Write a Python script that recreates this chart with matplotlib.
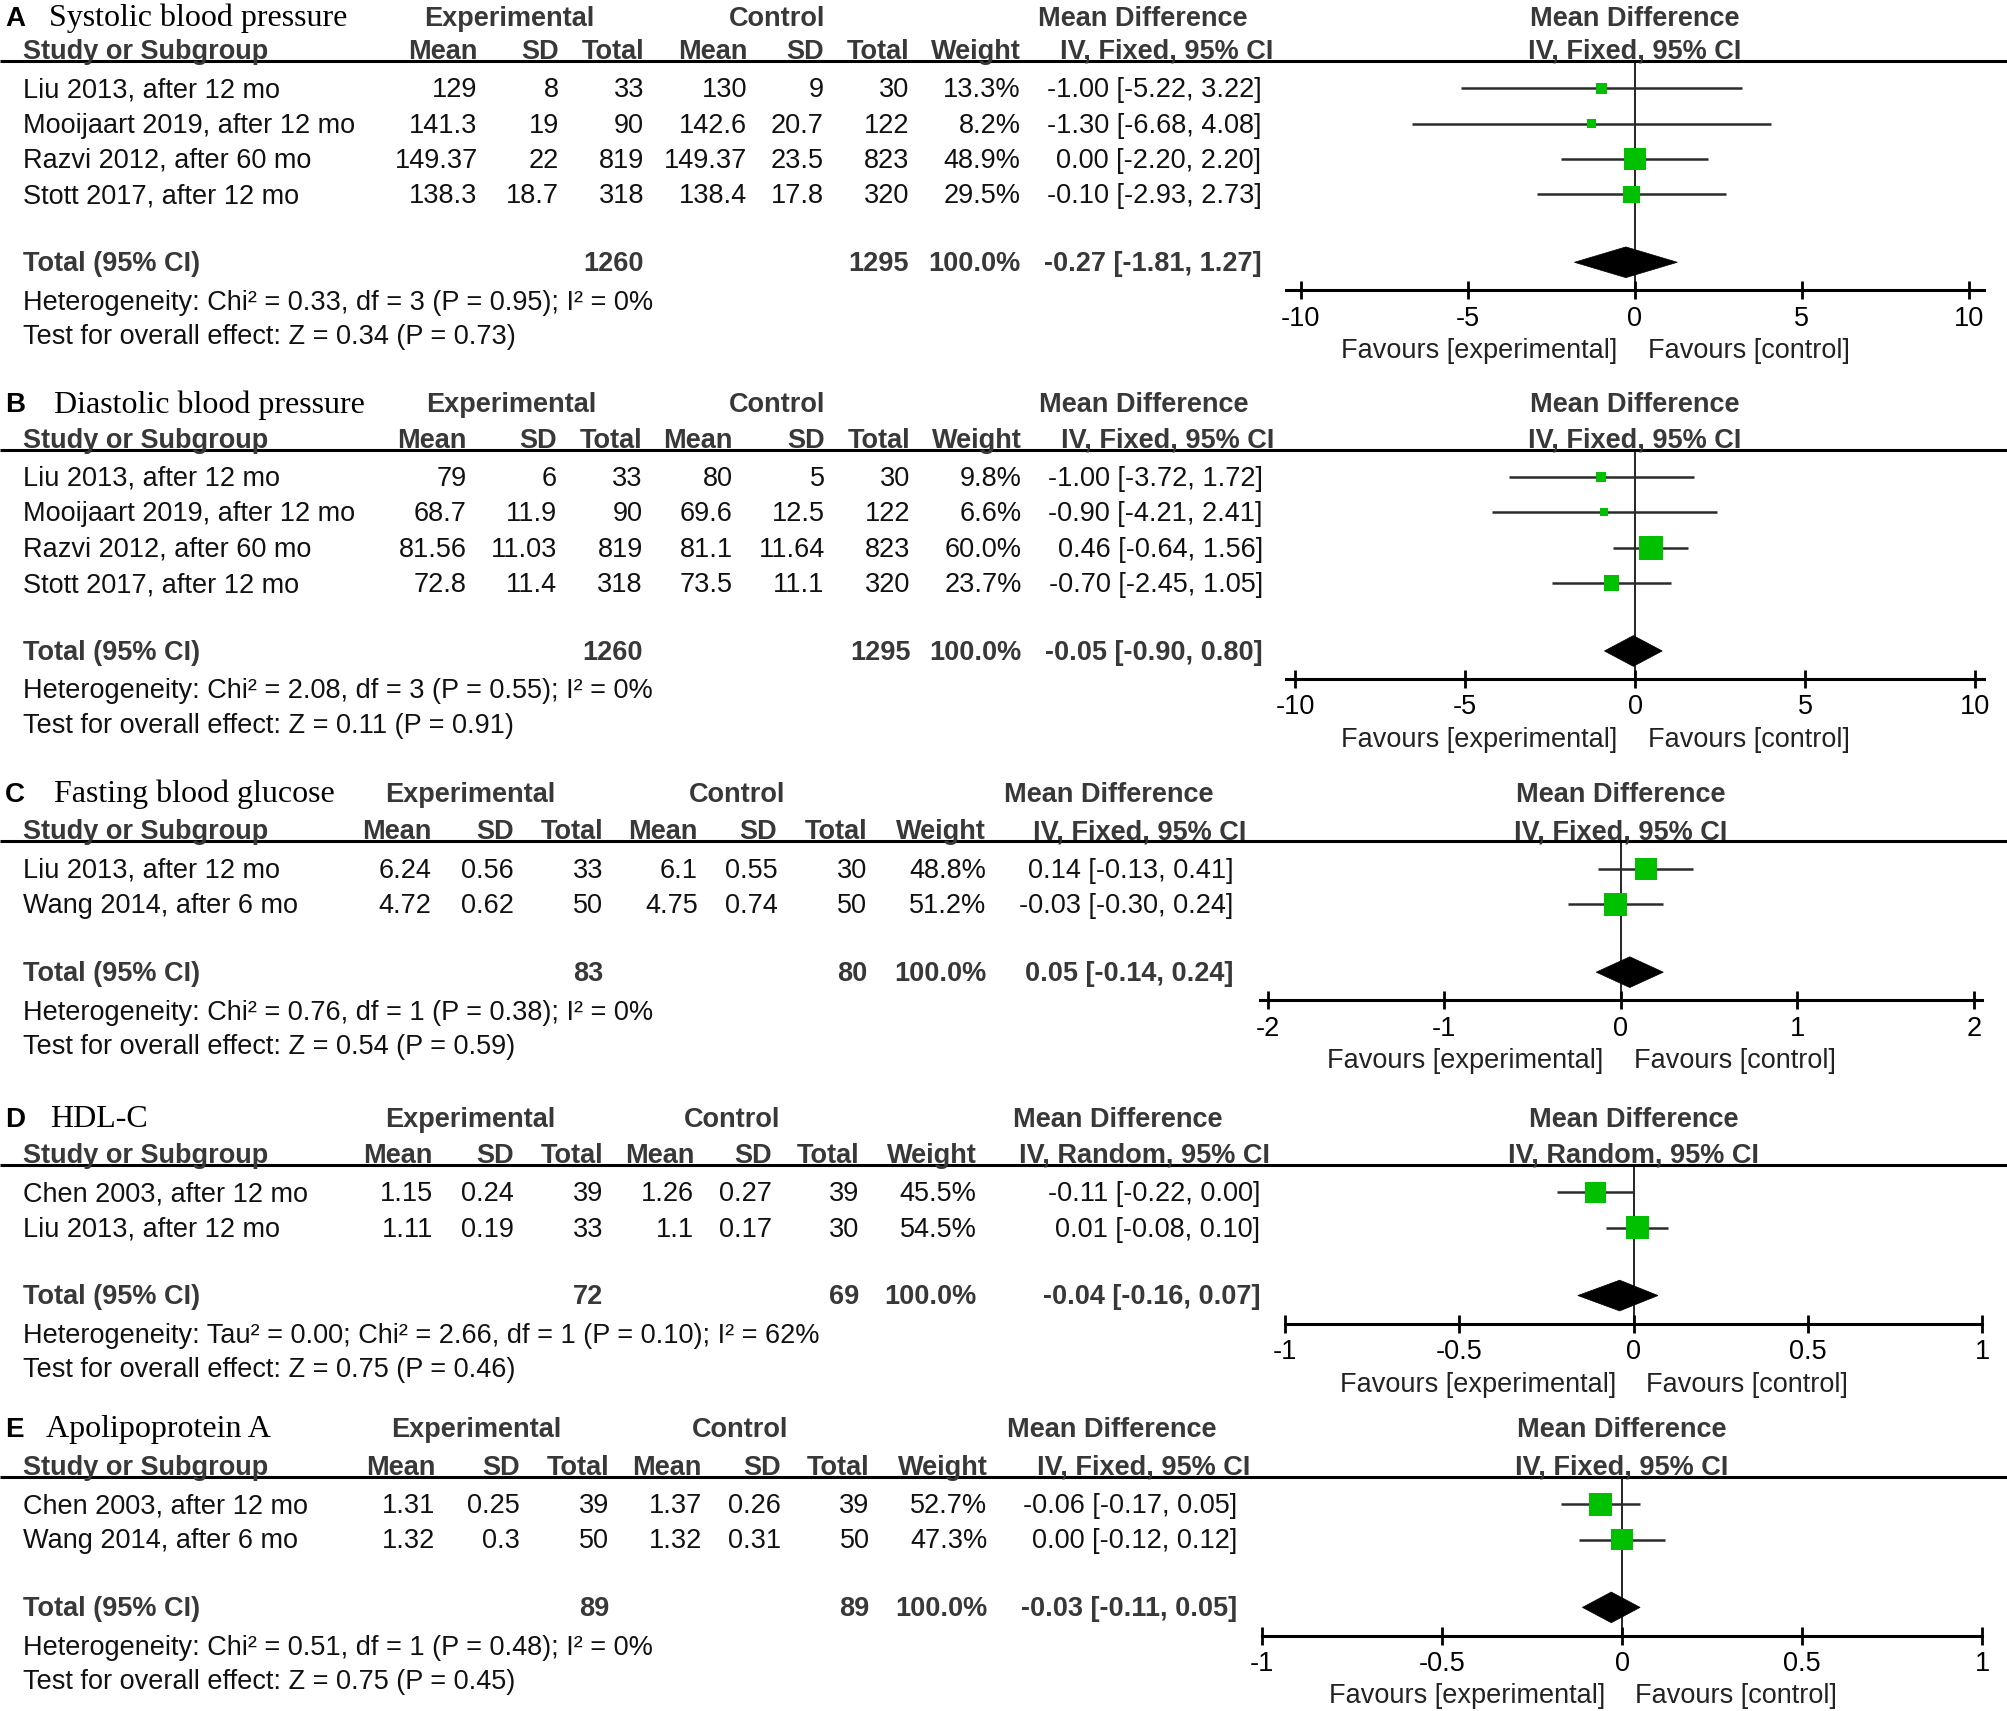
import numpy as np
import matplotlib.pyplot as plt
from matplotlib.patches import Polygon

plt.rcParams['font.family'] = ['Liberation Sans', 'DejaVu Sans']

# ---------------- data ----------------
# A  systolic blood pressure
sbp_study = ["Liu 2013, after 12 mo", "Mooijaart 2019, after 12 mo",
             "Razvi 2012, after 60 mo", "Stott 2017, after 12 mo"]
sbp_exp_mean = ["129", "141.3", "149.37", "138.3"]
sbp_exp_sd = ["8", "19", "22", "18.7"]
sbp_exp_n = [33, 90, 819, 318]
sbp_ctl_mean = ["130", "142.6", "149.37", "138.4"]
sbp_ctl_sd = ["9", "20.7", "23.5", "17.8"]
sbp_ctl_n = [30, 122, 823, 320]
sbp_weight = [13.3, 8.2, 48.9, 29.5]
sbp_md = [-1.00, -1.30, 0.00, -0.10]
sbp_lo = [-5.22, -6.68, -2.20, -2.93]
sbp_hi = [3.22, 4.08, 2.20, 2.73]
sbp_total = [-0.27, -1.81, 1.27]
sbp_het = "Heterogeneity: Chi² = 0.33, df = 3 (P = 0.95); I² = 0%"
sbp_test = "Test for overall effect: Z = 0.34 (P = 0.73)"

# B  diastolic blood pressure
dbp_study = sbp_study
dbp_exp_mean = ["79", "68.7", "81.56", "72.8"]
dbp_exp_sd = ["6", "11.9", "11.03", "11.4"]
dbp_exp_n = [33, 90, 819, 318]
dbp_ctl_mean = ["80", "69.6", "81.1", "73.5"]
dbp_ctl_sd = ["5", "12.5", "11.64", "11.1"]
dbp_ctl_n = [30, 122, 823, 320]
dbp_weight = [9.8, 6.6, 60.0, 23.7]
dbp_md = [-1.00, -0.90, 0.46, -0.70]
dbp_lo = [-3.72, -4.21, -0.64, -2.45]
dbp_hi = [1.72, 2.41, 1.56, 1.05]
dbp_total = [-0.05, -0.90, 0.80]
dbp_het = "Heterogeneity: Chi² = 2.08, df = 3 (P = 0.55); I² = 0%"
dbp_test = "Test for overall effect: Z = 0.11 (P = 0.91)"

# C  fasting blood glucose
fbg_study = ["Liu 2013, after 12 mo", "Wang 2014, after 6 mo"]
fbg_exp_mean = ["6.24", "4.72"]
fbg_exp_sd = ["0.56", "0.62"]
fbg_exp_n = [33, 50]
fbg_ctl_mean = ["6.1", "4.75"]
fbg_ctl_sd = ["0.55", "0.74"]
fbg_ctl_n = [30, 50]
fbg_weight = [48.8, 51.2]
fbg_md = [0.14, -0.03]
fbg_lo = [-0.13, -0.30]
fbg_hi = [0.41, 0.24]
fbg_total = [0.05, -0.14, 0.24]
fbg_het = "Heterogeneity: Chi² = 0.76, df = 1 (P = 0.38); I² = 0%"
fbg_test = "Test for overall effect: Z = 0.54 (P = 0.59)"

# D  HDL-C
hdl_study = ["Chen 2003, after 12 mo", "Liu 2013, after 12 mo"]
hdl_exp_mean = ["1.15", "1.11"]
hdl_exp_sd = ["0.24", "0.19"]
hdl_exp_n = [39, 33]
hdl_ctl_mean = ["1.26", "1.1"]
hdl_ctl_sd = ["0.27", "0.17"]
hdl_ctl_n = [39, 30]
hdl_weight = [45.5, 54.5]
hdl_md = [-0.11, 0.01]
hdl_lo = [-0.22, -0.08]
hdl_hi = [0.00, 0.10]
hdl_total = [-0.04, -0.16, 0.07]
hdl_het = "Heterogeneity: Tau² = 0.00; Chi² = 2.66, df = 1 (P = 0.10); I² = 62%"
hdl_test = "Test for overall effect: Z = 0.75 (P = 0.46)"

# E  apolipoprotein A
apo_study = ["Chen 2003, after 12 mo", "Wang 2014, after 6 mo"]
apo_exp_mean = ["1.31", "1.32"]
apo_exp_sd = ["0.25", "0.3"]
apo_exp_n = [39, 50]
apo_ctl_mean = ["1.37", "1.32"]
apo_ctl_sd = ["0.26", "0.31"]
apo_ctl_n = [39, 50]
apo_weight = [52.7, 47.3]
apo_md = [-0.06, 0.00]
apo_lo = [-0.17, -0.12]
apo_hi = [0.05, 0.12]
apo_total = [-0.03, -0.11, 0.05]
apo_het = "Heterogeneity: Chi² = 0.51, df = 1 (P = 0.48); I² = 0%"
apo_test = "Test for overall effect: Z = 0.75 (P = 0.45)"

total_weight = "100.0%"

ticks_10 = [-10, -5, 0, 5, 10]
ticks_2 = [-2, -1, 0, 1, 2]
ticks_1 = [-1, -0.5, 0, 0.5, 1]

panels = [
    dict(letter="A", title="Systolic blood pressure", method="IV, Fixed, 95% CI",
         study=sbp_study, em=sbp_exp_mean, esd=sbp_exp_sd, en=sbp_exp_n,
         cm=sbp_ctl_mean, csd=sbp_ctl_sd, cn=sbp_ctl_n, w=sbp_weight,
         md=sbp_md, lo=sbp_lo, hi=sbp_hi, tot=sbp_total, het=sbp_het, test=sbp_test,
         ticks=ticks_10,
         # layout (px on a 1568 x 1336 grid)
         tx=38, ty=13, rule=47.5,
         cols=[373, 436.5, 503, 583.5, 643, 710, 797], ci=985, ivr=994,
         grp=[398, 607, 892], fx=[1015.8, 1537.5, 1004.3, 1549]),
    dict(letter="B", title="Diastolic blood pressure", method="IV, Fixed, 95% CI",
         study=dbp_study, em=dbp_exp_mean, esd=dbp_exp_sd, en=dbp_exp_n,
         cm=dbp_ctl_mean, csd=dbp_ctl_sd, cn=dbp_ctl_n, w=dbp_weight,
         md=dbp_md, lo=dbp_lo, hi=dbp_hi, tot=dbp_total, het=dbp_het, test=dbp_test,
         ticks=ticks_10,
         tx=42, ty=315, rule=351,
         cols=[364.5, 435, 502, 572, 644, 711, 798], ci=986, ivr=995,
         grp=[399, 607, 893], fx=[1011.2, 1542.3, 1004.3, 1549]),
    dict(letter="C", title="Fasting blood glucose", method="IV, Fixed, 95% CI",
         study=fbg_study, em=fbg_exp_mean, esd=fbg_exp_sd, en=fbg_exp_n,
         cm=fbg_ctl_mean, csd=fbg_ctl_sd, cn=fbg_ctl_n, w=fbg_weight,
         md=fbg_md, lo=fbg_lo, hi=fbg_hi, tot=fbg_total, het=fbg_het, test=fbg_test,
         ticks=ticks_2,
         tx=42, ty=619, rule=657,
         cols=[337, 401, 471, 545, 607, 677, 770], ci=963, ivr=973,
         grp=[367, 575.5, 866], fx=[990, 1541.5, 983.7, 1548]),
    dict(letter="D", title="HDL-C", method="IV, Random, 95% CI",
         study=hdl_study, em=hdl_exp_mean, esd=hdl_exp_sd, en=hdl_exp_n,
         cm=hdl_ctl_mean, csd=hdl_ctl_sd, cn=hdl_ctl_n, w=hdl_weight,
         md=hdl_md, lo=hdl_lo, hi=hdl_hi, tot=hdl_total, het=hdl_het, test=hdl_test,
         ticks=ticks_1,
         tx=39, ty=873, rule=909.5,
         cols=[338, 401, 471, 542, 603, 671, 762.5], ci=984, ivr=992,
         grp=[367, 571.5, 872.5], fx=[1003.3, 1548, 1003.3, 1548]),
    dict(letter="E", title="Apolipoprotein A", method="IV, Fixed, 95% CI",
         study=apo_study, em=apo_exp_mean, esd=apo_exp_sd, en=apo_exp_n,
         cm=apo_ctl_mean, csd=apo_ctl_sd, cn=apo_ctl_n, w=apo_weight,
         md=apo_md, lo=apo_lo, hi=apo_hi, tot=apo_total, het=apo_het, test=apo_test,
         ticks=ticks_1,
         tx=36, ty=1115, rule=1153,
         cols=[340, 406, 475.5, 548, 610, 679, 771], ci=966, ivr=976,
         grp=[372, 578, 868], fx=[985.3, 1548, 985.3, 1548]),
]

W, H = 1568, 1336
FS = 19.5
HEAD = '#383838'
TXT = '#111111'
GREEN = '#00c000'
DY = 1.5

fig = plt.figure(figsize=(20.08, 17.11), dpi=100)
cv = fig.add_axes([0, 0, 1, 1])
cv.set_xlim(0, W)
cv.set_ylim(H, 0)
cv.axis('off')


def put(x, y, s, ha='left', bold=False, size=FS, color=None, family=None):
    kw = {}
    if family:
        kw['family'] = family
    cv.text(x, y + DY, s, ha=ha, va='center', fontsize=size,
            fontweight='bold' if bold else 'normal',
            color=color or (HEAD if bold else TXT), **kw)


def fmt_tick(v):
    return "%g" % v


for p in panels:
    rule = p['rule']
    head_y = rule - 8.5
    rows = rule + 21.5 + 27.6 * np.arange(len(p['study']))
    tot_y = rows[-1] + 53
    axis_y = tot_y + 22
    c = p['cols']

    # titles and group headers
    put(4, p['ty'], p['letter'], bold=True, size=20, color='black')
    put(p['tx'], p['ty'], p['title'], size=23, color='black',
        family=['Liberation Serif', 'DejaVu Serif'])
    put(p['grp'][0], p['ty'], "Experimental", ha='center', bold=True)
    put(p['grp'][1], p['ty'], "Control", ha='center', bold=True)
    put(p['grp'][2], p['ty'], "Mean Difference", ha='center', bold=True)

    # column headers
    put(18, head_y, "Study or Subgroup", bold=True)
    for x, s in zip(c, ["Mean", "SD", "Total", "Mean", "SD", "Total", "Weight"]):
        put(x, head_y, s, ha='right', bold=True)
    put(p['ivr'], head_y, p['method'], ha='right', bold=True)
    cv.plot([0, W], [rule, rule], color='black', lw=2.2, solid_capstyle='butt')

    # study rows
    for i, y in enumerate(rows):
        put(18, y, p['study'][i])
        vals = [p['em'][i], p['esd'][i], str(p['en'][i]),
                p['cm'][i], p['csd'][i], str(p['cn'][i]),
                "%.1f%%" % p['w'][i]]
        for x, s in zip(c, vals):
            put(x, y, s, ha='right')
        put(p['ci'], y, "%.2f [%.2f, %.2f]" % (p['md'][i], p['lo'][i], p['hi'][i]),
            ha='right')

    # total row
    put(18, tot_y, "Total (95% CI)", bold=True)
    put(c[2], tot_y, str(sum(p['en'])), ha='right', bold=True)
    put(c[5], tot_y, str(sum(p['cn'])), ha='right', bold=True)
    put(c[6], tot_y, total_weight, ha='right', bold=True)
    put(p['ci'], tot_y, "%.2f [%.2f, %.2f]" % tuple(p['tot']), ha='right', bold=True)
    put(18, tot_y + 30, p['het'])
    put(18, tot_y + 57, p['test'])

    # forest plot
    t_lo, t_hi, l_lo, l_hi = p['fx']
    xmax = max(p['ticks'])
    ppu = (t_hi - t_lo) / (2 * xmax)
    zero = t_lo + xmax * ppu
    put(zero, p['ty'], "Mean Difference", ha='center', bold=True)
    put(zero, head_y, p['method'], ha='center', bold=True)

    ax = fig.add_axes([l_lo / W, 1 - axis_y / H, (l_hi - l_lo) / W, (axis_y - rule) / H])
    ax.set_xlim(-xmax - (t_lo - l_lo) / ppu, xmax + (l_hi - t_hi) / ppu)
    ax.set_ylim(axis_y, rule)
    ax.patch.set_alpha(0)
    for s in ['top', 'right', 'left']:
        ax.spines[s].set_visible(False)
    ax.spines['bottom'].set_linewidth(2.2)
    ax.set_yticks([])
    ax.set_xticks(p['ticks'])
    ax.set_xticklabels([fmt_tick(v) for v in p['ticks']])
    ax.tick_params(axis='x', direction='inout', length=13, width=2, pad=4.5,
                   labelsize=FS, colors='black')

    ax.axvline(0, color='black', lw=1.2, zorder=1)
    ax.hlines(rows, p['lo'], p['hi'], color='#2b2b2b', lw=1.8, zorder=2)
    ax.scatter(p['md'], rows, marker='s', s=5.1 * np.array(p['w']), c=GREEN,
               linewidths=0, zorder=3)
    md, lo, hi = p['tot']
    ax.add_patch(Polygon([[lo, tot_y], [md, tot_y - 12], [hi, tot_y], [md, tot_y + 12]],
                         closed=True, fc='black', ec='black', lw=0.5, zorder=3))

    put(zero - 13.5, axis_y + 46, "Favours [experimental]", ha='right', color='#222222')
    put(zero + 10, axis_y + 46, "Favours [control]", ha='left', color='#222222')

fig.savefig('out.png', dpi=100, facecolor='white')
